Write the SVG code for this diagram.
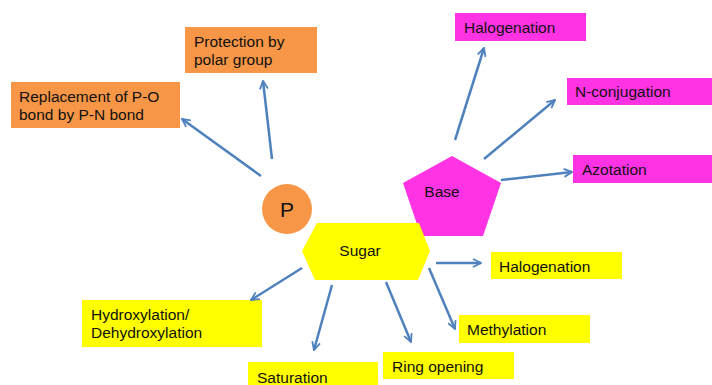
<svg xmlns="http://www.w3.org/2000/svg" width="712" height="385" viewBox="0 0 712 385">
<defs>
<marker id="ah" viewBox="0 0 10 10" refX="9" refY="5" markerWidth="10" markerHeight="10" markerUnits="userSpaceOnUse" orient="auto">
<path d="M1,1 L9,5 L1,9" fill="none" stroke="#4F81BD" stroke-width="1.8"/>
</marker>
<style>
.t{font-family:"Liberation Sans",Arial,sans-serif;font-size:15.5px;fill:#111}
.or{fill:#F79646}
.mg{fill:#FF33E3}
.ye{fill:#FFFF00}
.c line{stroke:#4F81BD;stroke-width:2.5;marker-end:url(#ah)}
</style>
</defs>
<rect width="712" height="385" fill="#fff"/>
<g id="protection"><rect class="or" x="185" y="27" width="132" height="46"/><text class="t" x="194" y="47">Protection by</text><text class="t" x="194" y="65">polar group</text></g>
<g id="replacement"><rect class="or" x="11" y="82" width="169" height="46"/><text class="t" x="19" y="102">Replacement of P-O</text><text class="t" x="19" y="120">bond by P-N bond</text></g>
<g id="p"><circle class="or" cx="287" cy="209" r="25"/><text class="t" x="287" y="217" text-anchor="middle" style="font-size:21px">P</text></g>
<g id="halogenation-base"><rect class="mg" x="455" y="13" width="131" height="28"/><text class="t" x="464" y="33">Halogenation</text></g>
<g id="nconjugation"><rect class="mg" x="567" y="78" width="145" height="27"/><text class="t" x="575" y="97">N-conjugation</text></g>
<g id="azotation"><rect class="mg" x="573" y="155" width="139" height="28"/><text class="t" x="582" y="175">Azotation</text></g>
<g id="base"><polygon class="mg" points="452,156 501,183 483,236 421,236 403,183"/><text class="t" x="442" y="197" text-anchor="middle">Base</text></g>
<g id="sugar"><polygon class="ye" points="302,251 317,223 419,223 430,251 418,280 315,280"/><text class="t" x="360" y="256" text-anchor="middle">Sugar</text></g>
<g id="halogenation-sugar"><rect class="ye" x="491" y="252" width="131" height="27"/><text class="t" x="499" y="272">Halogenation</text></g>
<g id="methylation"><rect class="ye" x="459" y="315" width="131" height="28"/><text class="t" x="467" y="335">Methylation</text></g>
<g id="ringopening"><rect class="ye" x="383" y="352" width="131" height="27"/><text class="t" x="392" y="372">Ring opening</text></g>
<g id="saturation"><rect class="ye" x="248" y="362" width="130" height="23"/><text class="t" x="257" y="383">Saturation</text></g>
<g id="hydroxylation"><rect class="ye" x="82" y="300" width="180" height="47"/><text class="t" x="91" y="320">Hydroxylation/</text><text class="t" x="91" y="338">Dehydroxylation</text></g>
<g id="connectors" class="c">
<line x1="272" y1="159" x2="263" y2="81"/>
<line x1="261" y1="176" x2="182" y2="119"/>
<line x1="455" y1="140" x2="484" y2="48"/>
<line x1="484" y1="159" x2="555" y2="100"/>
<line x1="501" y1="180" x2="572" y2="172"/>
<line x1="436" y1="263" x2="481" y2="263"/>
<line x1="429" y1="268" x2="455" y2="329"/>
<line x1="386" y1="282" x2="411" y2="342"/>
<line x1="332" y1="285" x2="314" y2="350"/>
<line x1="302" y1="268" x2="251" y2="300"/>
</g>
</svg>
